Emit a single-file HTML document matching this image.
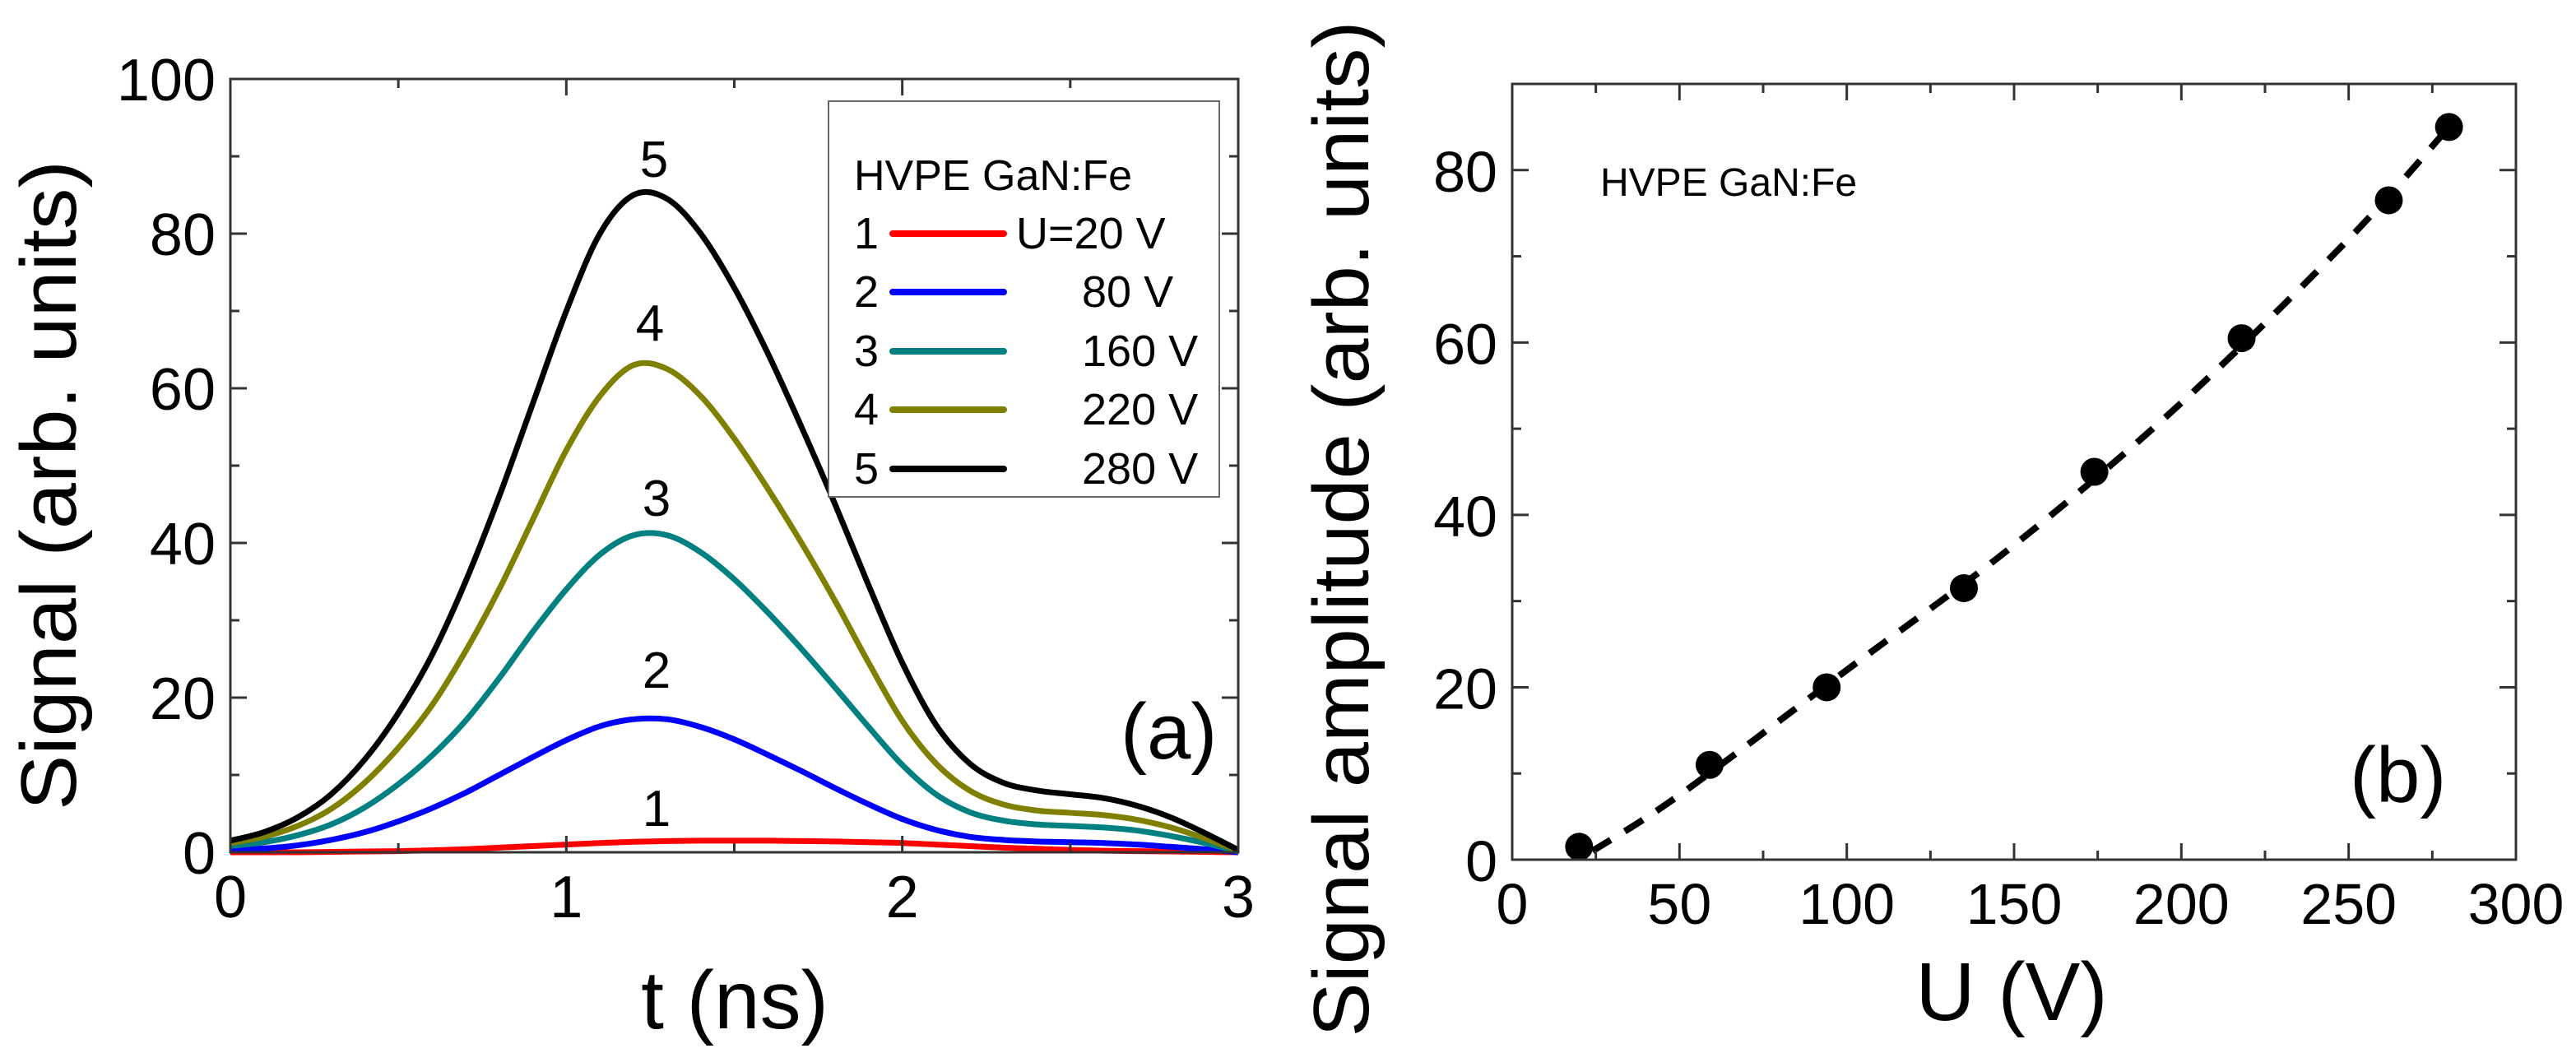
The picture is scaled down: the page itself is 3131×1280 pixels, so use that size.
<!DOCTYPE html>
<html><head><meta charset="utf-8"><style>
html,body{margin:0;padding:0;background:#fff}
svg{display:block;font-family:"Liberation Sans",sans-serif}
</style></head><body>
<svg id="fig" width="3131" height="1280" viewBox="0 0 3131 1280" xmlns="http://www.w3.org/2000/svg">
<g id="left"></g>
<g id="right"></g>
</svg>
<script>
// Panel (a) data
const tValues = [0,0.1,0.2,0.3,0.4,0.5,0.6,0.7,0.8,0.9,1.0,1.1,1.2,1.3,1.4,1.5,1.6,1.7,1.8,1.9,2.0,2.1,2.2,2.3,2.4,2.5,2.6,2.7,2.8,2.9,3.0];
const signal1 = [0,0,0,0.05,0.1,0.15,0.25,0.4,0.6,0.8,1.0,1.2,1.35,1.45,1.5,1.5,1.5,1.45,1.4,1.3,1.2,1.0,0.8,0.6,0.45,0.3,0.2,0.15,0.1,0.05,0];
const signal2 = [0.3,0.5,0.9,1.6,2.6,4,5.7,7.7,10,12.3,14.5,16.3,17.2,17.2,16.2,14.6,12.6,10.5,8.3,6.2,4.3,2.9,2,1.6,1.4,1.3,1.2,1,0.7,0.4,0];
const signal3 = [0.8,1.3,2.2,3.6,5.8,8.8,12.5,17,22.5,28.5,34,38.5,41,41,38.8,35.3,31,26.3,21.3,16.2,11.3,7.5,5.2,4.1,3.6,3.4,3.2,2.8,2.1,1.2,0.1];
const signal4 = [1.2,2,3.4,5.6,9,13.5,19,26,34,43,52,59,63,62.5,59,53.5,47,40,32.5,24.5,17,11.5,8,6.2,5.4,5.1,4.8,4.2,3.2,1.8,0.2];
const signal5 = [1.5,2.6,4.5,7.5,12,18,25.5,35,46,58,70,80,85,84.5,80,73,64.5,55,45,34.5,24.5,16.5,11.5,9,8,7.5,7,6,4.5,2.5,0.3];
const seriesColors = ["#ff0000","#0000ff","#008080","#808000","#000000"];
const legendLabels = ["U=20 V","80 V","160 V","220 V","280 V"];
const xTicksA = [0,1,2,3];
const yTicksA = [0,20,40,60,80,100];
// Panel (b) data
const voltages = [20,59,94,135,174,218,262,280];
const amplitudes = [1.5,11,20,31.5,45,60.5,76.5,85];
const fitU = [24,50,100,150,200,250,280];
const fitA = [1,7.5,22,36.5,53,72,85];
const xTicksB = [0,50,100,150,200,250,300];
const yTicksB = [0,20,40,60,80];

const NS="http://www.w3.org/2000/svg";
function mk(parent,tag,attrs,text){const e=document.createElementNS(NS,tag);for(const k in attrs)e.setAttribute(k,attrs[k]);if(text!==undefined)e.textContent=text;parent.appendChild(e);return e;}
function smooth(pts){let d="M"+pts[0][0]+","+pts[0][1];for(let i=0;i<pts.length-1;i++){const p0=pts[Math.max(i-1,0)],p1=pts[i],p2=pts[i+1],p3=pts[Math.min(i+2,pts.length-1)];const c1=[p1[0]+(p2[0]-p0[0])/6,p1[1]+(p2[1]-p0[1])/6],c2=[p2[0]-(p3[0]-p1[0])/6,p2[1]-(p3[1]-p1[1])/6];d+=" C"+c1[0]+","+c1[1]+" "+c2[0]+","+c2[1]+" "+p2[0]+","+p2[1];}return d;}

// ---- Panel A ----
const L=document.getElementById('left');
const ax={x0:280,x1:1505,y0:1036,y1:96};
const xA=v=>ax.x0+(v-0)/3*(ax.x1-ax.x0);
const yA=v=>ax.y0-(v-0)/100*(ax.y0-ax.y1);
let e;
const allSignals=[signal1,signal2,signal3,signal4,signal5];
allSignals.forEach((s,i)=>{
  e=mk(L,'path',{d:smooth(tValues.map((t,j)=>[xA(t),yA(s[j])])),fill:'none',stroke:seriesColors[i],'stroke-width':7,'stroke-linejoin':'round'});
  
  
});
e=mk(L,'rect',{x:ax.x0,y:ax.y1,width:ax.x1-ax.x0,height:ax.y0-ax.y1,fill:'none',stroke:'#333','stroke-width':3});


for(let v=0;v<=3;v+=0.5){const X=xA(v),len=(v%1===0)?20:11;
  mk(L,'line',{x1:X,y1:ax.y0,x2:X,y2:ax.y0-len,stroke:'#333','stroke-width':3});
  mk(L,'line',{x1:X,y1:ax.y1,x2:X,y2:ax.y1+len,stroke:'#333','stroke-width':3});}
for(let v=0;v<=100;v+=10){const Y=yA(v),len=(v%20===0)?20:11;
  mk(L,'line',{x1:ax.x0,y1:Y,x2:ax.x0+len,y2:Y,stroke:'#333','stroke-width':3});
  mk(L,'line',{x1:ax.x1,y1:Y,x2:ax.x1-len,y2:Y,stroke:'#333','stroke-width':3});}
xTicksA.forEach(v=>{e=mk(L,'text',{x:xA(v),y:1115,'font-size':72,'text-anchor':'middle'},String(v));
  
  });
yTicksA.forEach(v=>{e=mk(L,'text',{x:ax.x0-18,y:yA(v)+26,'font-size':72,'text-anchor':'end'},String(v));
  
  });
e=mk(L,'text',{x:0,y:0,'font-size':96,'text-anchor':'middle',transform:'translate(92,590) rotate(-90)',textLength:790,lengthAdjust:'spacingAndGlyphs'},'Signal (arb. units)');


e=mk(L,'text',{x:893,y:1250,'font-size':100,'text-anchor':'middle'},'t (ns)');


const peakLbl=[[798,1004],[798,836],[798,627],[790,414],[795,215]];
peakLbl.forEach((p,i)=>{e=mk(L,'text',{x:p[0],y:p[1],'font-size':62,'text-anchor':'middle'},String(i+1));
  
  });
e=mk(L,'text',{x:1362,y:922,'font-size':96},'(a)');


// legend
e=mk(L,'rect',{x:1007,y:123,width:475,height:481,fill:'#fff',stroke:'#666','stroke-width':2});


e=mk(L,'text',{x:1038,y:231,'font-size':52},'HVPE GaN:Fe');


const legY=[302,373,445,516,588];
const legTX=[1235,1315,1315,1315,1315];
legendLabels.forEach((lab,i)=>{
  const g=mk(L,'g',{});
  
  
  mk(g,'text',{x:1038,y:legY[i],'font-size':54},String(i+1));
  mk(g,'line',{x1:1085,y1:legY[i]-18,x2:1220,y2:legY[i]-18,stroke:seriesColors[i],'stroke-width':8,'stroke-linecap':'round'});
  mk(g,'text',{x:legTX[i],y:legY[i],'font-size':54},lab);
});

// ---- Panel B ----
const R=document.getElementById('right');
const bx={x0:1838,x1:3058,y0:1045,y1:102};
const xB=v=>bx.x0+v/300*(bx.x1-bx.x0);
const yB=v=>bx.y0-v/90*(bx.y0-bx.y1);
e=mk(R,'path',{d:smooth(fitU.map((u,j)=>[xB(u),yB(fitA[j])])),fill:'none',stroke:'#000','stroke-width':8,'stroke-dasharray':'26,20'});


voltages.forEach((u,j)=>{e=mk(R,'circle',{cx:xB(u),cy:yB(amplitudes[j]),r:17,fill:'#000'});
  
  });
e=mk(R,'rect',{x:bx.x0,y:bx.y1,width:bx.x1-bx.x0,height:bx.y0-bx.y1,fill:'none',stroke:'#333','stroke-width':3});


for(let v=0;v<=300;v+=25){const X=xB(v),len=(v%50===0)?20:11;
  mk(R,'line',{x1:X,y1:bx.y0,x2:X,y2:bx.y0-len,stroke:'#333','stroke-width':3});
  mk(R,'line',{x1:X,y1:bx.y1,x2:X,y2:bx.y1+len,stroke:'#333','stroke-width':3});}
for(let v=0;v<=90;v+=10){const Y=yB(v),len=(v%20===0)?20:11;
  mk(R,'line',{x1:bx.x0,y1:Y,x2:bx.x0+len,y2:Y,stroke:'#333','stroke-width':3});
  mk(R,'line',{x1:bx.x1,y1:Y,x2:bx.x1-len,y2:Y,stroke:'#333','stroke-width':3});}
xTicksB.forEach(v=>{e=mk(R,'text',{x:xB(v),y:1123,'font-size':70,'text-anchor':'middle'},String(v));
  
  });
yTicksB.forEach(v=>{e=mk(R,'text',{x:bx.x0-18,y:yB(v)+26,'font-size':70,'text-anchor':'end'},String(v));
  
  });
e=mk(R,'text',{x:0,y:0,'font-size':96,'text-anchor':'middle',transform:'translate(1663,643) rotate(-90)',textLength:1235,lengthAdjust:'spacingAndGlyphs'},'Signal amplitude (arb. units)');


e=mk(R,'text',{x:2445,y:1240,'font-size':100,'text-anchor':'middle'},'U (V)');


e=mk(R,'text',{x:1945,y:238,'font-size':48},'HVPE GaN:Fe');


e=mk(R,'text',{x:2856,y:975,'font-size':96},'(b)');


</script>
</body></html>
